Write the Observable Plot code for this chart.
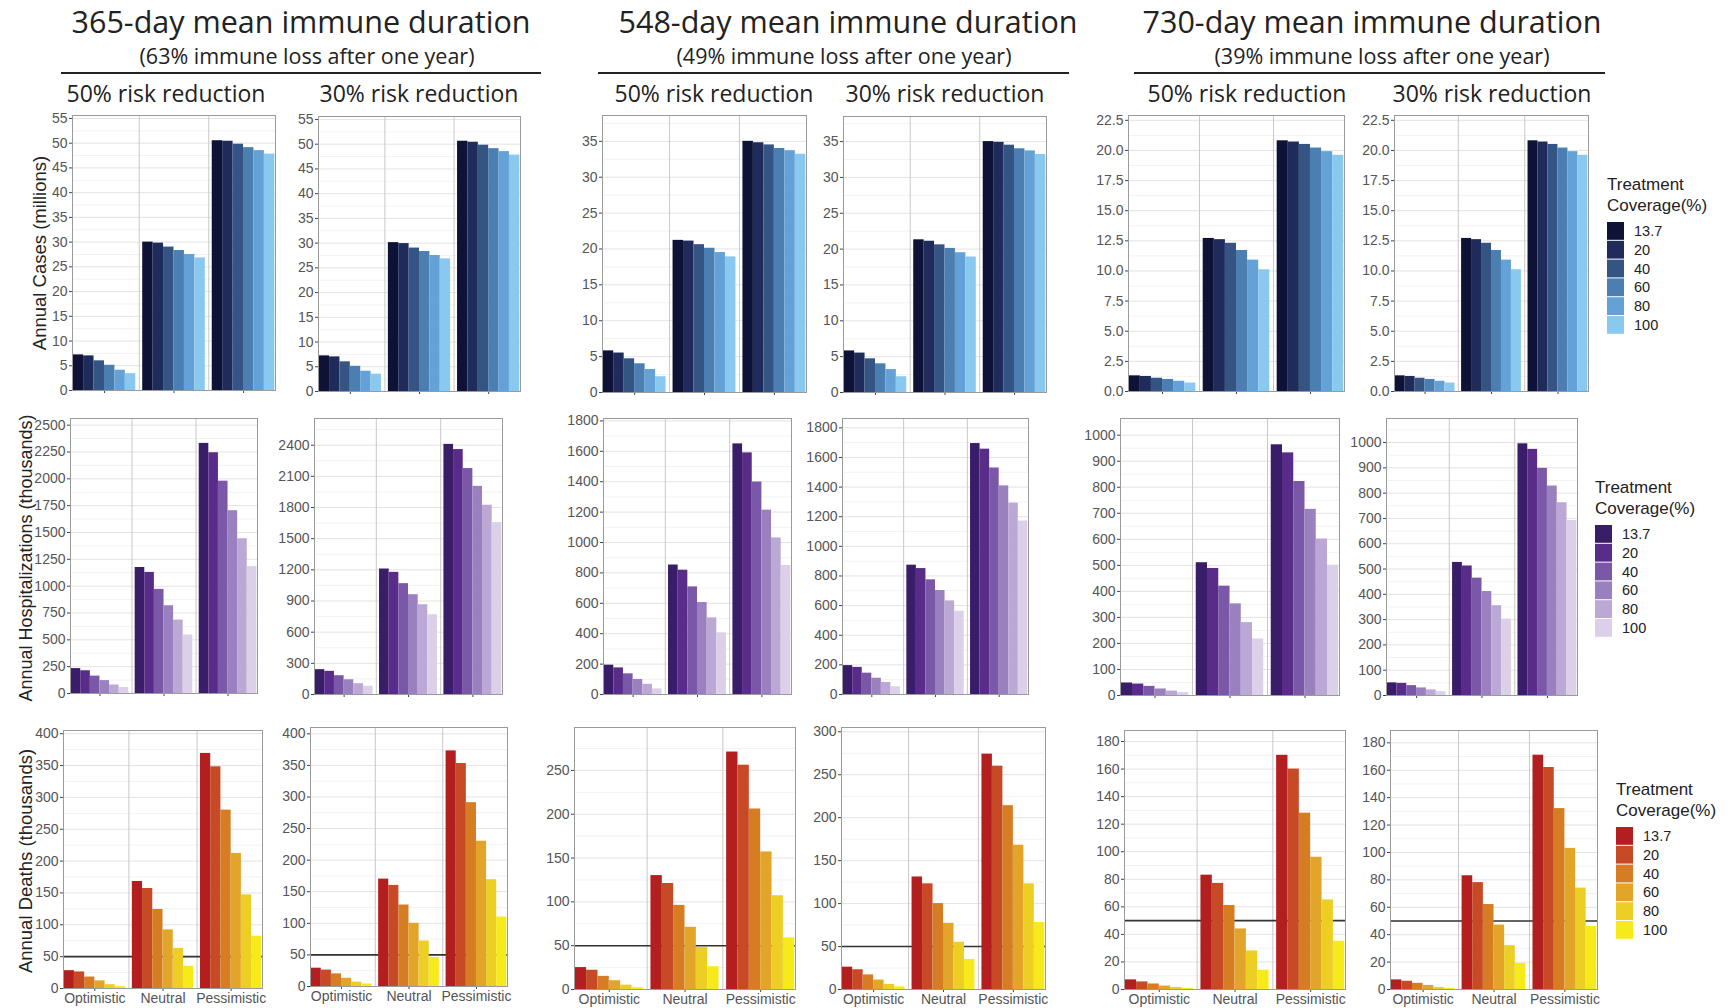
<!DOCTYPE html>
<html>
<head>
<meta charset="utf-8">
<script src="https://cdn.jsdelivr.net/npm/d3@7"></script>
<script src="https://cdn.jsdelivr.net/npm/@observablehq/plot@0.6"></script>
<style>
  html, body { margin: 0; padding: 0; background: #fff; }
  #root { position: relative; width: 1732px; height: 1008px; overflow: hidden; background: #fff; }
  #root svg.plot { position: absolute; }
</style>
</head>
<body>
<div id="root"></div>
<script>
// ---------- data ----------
const scenarios = ["Optimistic", "Neutral", "Pessimistic"];
const coverage = ["13.7", "20", "40", "60", "80", "100"];

const durationTitles = ["365-day mean immune duration", "548-day mean immune duration", "730-day mean immune duration"];
const durationSubtitles = ["(63% immune loss after one year)", "(49% immune loss after one year)", "(39% immune loss after one year)"];
const riskTitles = ["50% risk reduction", "30% risk reduction"];
const rowLabels = ["Annual Cases (millions)", "Annual Hospitalizations (thousands)", "Annual Deaths (thousands)"];
const legendTitle = ["Treatment", "Coverage(%)"];

const blues   = ["#0e1236", "#1f2b5b", "#345584", "#4b7eb1", "#63a1d6", "#89c8ef"];
const purples = ["#3a1d68", "#592c89", "#7b57a7", "#9b80bf", "#bca8d4", "#dcd0e8"];
const warms   = ["#b31f1e", "#c84926", "#d67c22", "#e2a52a", "#ecce25", "#f6ea1b"];

// values: [Optimistic, Neutral, Pessimistic] x coverage
const cases365_50 = [[7.2, 7.0, 6.0, 5.1, 4.1, 3.4], [30.0, 29.8, 29.0, 28.3, 27.5, 26.8], [50.5, 50.4, 49.8, 49.1, 48.5, 47.8]];
const cases365_30 = [[7.2, 7.0, 6.0, 5.1, 4.1, 3.5], [30.1, 29.9, 29.0, 28.3, 27.5, 26.8], [50.6, 50.4, 49.8, 49.1, 48.5, 47.8]];
const cases548_50 = [[5.8, 5.5, 4.7, 4.0, 3.2, 2.2], [21.2, 21.1, 20.6, 20.1, 19.5, 18.9], [35.0, 34.8, 34.5, 34.0, 33.7, 33.2]];
const cases548_30 = [[5.8, 5.5, 4.7, 4.0, 3.2, 2.2], [21.3, 21.1, 20.6, 20.1, 19.5, 18.9], [35.0, 34.9, 34.5, 34.0, 33.7, 33.2]];
const cases730_50 = [[1.3, 1.25, 1.1, 1.0, 0.85, 0.7], [12.7, 12.6, 12.3, 11.7, 10.9, 10.1], [20.8, 20.7, 20.5, 20.2, 19.9, 19.6]];
const cases730_30 = [[1.3, 1.25, 1.1, 1.0, 0.85, 0.7], [12.7, 12.6, 12.3, 11.7, 10.9, 10.1], [20.8, 20.7, 20.5, 20.2, 19.9, 19.6]];

const hosp365_50 = [[232, 212, 162, 120, 79, 57], [1174, 1128, 970, 818, 684, 545], [2330, 2243, 1978, 1703, 1442, 1182]];
const hosp365_30 = [[239, 223, 181, 142, 104, 80], [1208, 1176, 1067, 961, 864, 768], [2408, 2358, 2175, 2004, 1822, 1655]];
const hosp548_50 = [[193, 175, 136, 99, 67, 37], [852, 818, 708, 605, 504, 406], [1649, 1590, 1398, 1213, 1030, 849]];
const hosp548_30 = [[195, 183, 144, 110, 81, 52], [873, 850, 774, 702, 632, 562], [1694, 1656, 1529, 1408, 1292, 1171]];
const hosp730_50 = [[48, 44, 35, 25, 17, 11], [510, 488, 420, 352, 280, 217], [963, 932, 822, 715, 601, 500]];
const hosp730_30 = [[50, 48, 39, 30, 22, 15], [526, 512, 464, 411, 355, 302], [995, 973, 898, 828, 762, 692]];

const deaths365_50 = [[28, 26, 18, 12, 6, 3], [168, 157, 124, 92, 63, 35], [369, 348, 280, 212, 147, 82]];
const deaths365_30 = [[29, 26, 20, 13, 7, 4], [170, 160, 129, 100, 72, 46], [373, 353, 291, 230, 169, 110]];
const deaths548_50 = [[25, 22, 15, 10, 5, 2], [130, 121, 96, 71, 48, 26], [271, 256, 206, 157, 107, 59]];
const deaths548_30 = [[26, 23, 17, 11, 6, 3], [131, 123, 100, 77, 55, 35], [274, 260, 214, 168, 123, 78]];
const deaths730_50 = [[7, 5.5, 4, 2.5, 1.5, 0.8], [83, 77, 61, 44, 28, 14], [170, 160, 128, 96, 65, 35]];
const deaths730_30 = [[7, 6, 4.5, 3, 1.5, 0.8], [83, 78, 62, 47, 32, 19], [171, 162, 132, 103, 74, 46]];

const deathsThreshold = [50];

// tick values
const ticksCases365 = [0, 5, 10, 15, 20, 25, 30, 35, 40, 45, 50, 55];
const ticksCases548 = [0, 5, 10, 15, 20, 25, 30, 35];
const ticksCases730 = [0, 2.5, 5, 7.5, 10, 12.5, 15, 17.5, 20, 22.5];
const ticksHosp365_50 = [0, 250, 500, 750, 1000, 1250, 1500, 1750, 2000, 2250, 2500];
const ticksHosp365_30 = [0, 300, 600, 900, 1200, 1500, 1800, 2100, 2400];
const ticksHosp548 = [0, 200, 400, 600, 800, 1000, 1200, 1400, 1600, 1800];
const ticksHosp730 = [0, 100, 200, 300, 400, 500, 600, 700, 800, 900, 1000];
const ticksDeaths365 = [0, 50, 100, 150, 200, 250, 300, 350, 400];
const ticksDeaths548_50 = [0, 50, 100, 150, 200, 250];
const ticksDeaths548_30 = [0, 50, 100, 150, 200, 250, 300];
const ticksDeaths730 = [0, 20, 40, 60, 80, 100, 120, 140, 160, 180];

// ---------- layout ----------
const root = document.getElementById("root");
const W = 1732, H = 1008;

const panels = [
  // row 1: cases
  {frame: [72, 275, 115, 390],  values: cases365_50, ymax: 55.6, ticks: ticksCases365, colors: blues},
  {frame: [318, 520, 116, 391], values: cases365_30, ymax: 55.6, ticks: ticksCases365, colors: blues},
  {frame: [602, 806, 115, 392], values: cases548_50, ymax: 38.6, ticks: ticksCases548, colors: blues},
  {frame: [843, 1046, 116, 392], values: cases548_30, ymax: 38.5, ticks: ticksCases548, colors: blues},
  {frame: [1128, 1344, 115, 391], values: cases730_50, ymax: 22.9, ticks: ticksCases730, colors: blues, fmt: d3.format(".1f")},
  {frame: [1394, 1588, 115, 391], values: cases730_30, ymax: 22.9, ticks: ticksCases730, colors: blues, fmt: d3.format(".1f")},
  // row 2: hospitalizations
  {frame: [70, 257, 418, 693],  values: hosp365_50, ymax: 2562, ticks: ticksHosp365_50, colors: purples},
  {frame: [314, 502, 418, 694], values: hosp365_30, ymax: 2657, ticks: ticksHosp365_30, colors: purples},
  {frame: [603, 791, 418, 694], values: hosp548_50, ymax: 1816, ticks: ticksHosp548, colors: purples},
  {frame: [842, 1028, 418, 694], values: hosp548_30, ymax: 1863, ticks: ticksHosp548, colors: purples},
  {frame: [1120, 1339, 418, 695], values: hosp730_50, ymax: 1064, ticks: ticksHosp730, colors: purples},
  {frame: [1386, 1577, 418, 695], values: hosp730_30, ymax: 1095, ticks: ticksHosp730, colors: purples},
  // row 3: deaths
  {frame: [63, 262, 730, 988],  values: deaths365_50, ymax: 405, ticks: ticksDeaths365, colors: warms, threshold: true, xlabels: true},
  {frame: [310, 507, 727, 986], values: deaths365_30, ymax: 410, ticks: ticksDeaths365, colors: warms, threshold: true, xlabels: true},
  {frame: [574, 795, 727, 989], values: deaths548_50, ymax: 299, ticks: ticksDeaths548_50, colors: warms, threshold: true, xlabels: true},
  {frame: [841, 1045, 727, 989], values: deaths548_30, ymax: 305, ticks: ticksDeaths548_30, colors: warms, threshold: true, xlabels: true},
  {frame: [1124, 1345, 730, 989], values: deaths730_50, ymax: 188, ticks: ticksDeaths730, colors: warms, threshold: true, xlabels: true},
  {frame: [1390, 1597, 730, 989], values: deaths730_30, ymax: 189, ticks: ticksDeaths730, colors: warms, threshold: true, xlabels: true}
];

// ---------- overlay text (titles, labels, legends) ----------
const overlay = d3.create("svg")
  .attr("width", W).attr("height", H)
  .style("position", "absolute").style("left", "0px").style("top", "0px");

const titleCenters = [301, 848, 1372];
const subtitleCenters = [307, 844, 1382];
const lineSpans = [[61, 541], [598, 1069], [1134, 1605]];
const riskCenters = [[166, 419], [714, 945], [1247, 1492]];
const titleFont = "'Open Sans', 'Noto Sans', sans-serif";

titleCenters.forEach((cx, i) => {
  overlay.append("text").attr("x", cx).attr("y", 33).attr("text-anchor", "middle")
    .attr("font-family", titleFont).attr("font-size", 30.5).attr("fill", "#222").text(durationTitles[i]);
  overlay.append("text").attr("x", subtitleCenters[i]).attr("y", 63.5).attr("text-anchor", "middle")
    .attr("font-family", titleFont).attr("font-size", 21.5).attr("fill", "#222").text(durationSubtitles[i]);
  overlay.append("line").attr("x1", lineSpans[i][0]).attr("x2", lineSpans[i][1]).attr("y1", 73).attr("y2", 73)
    .attr("stroke", "#222").attr("stroke-width", 2);
  riskCenters[i].forEach((rx, k) => {
    overlay.append("text").attr("x", rx).attr("y", 102).attr("text-anchor", "middle")
      .attr("font-family", titleFont).attr("font-size", 23).attr("fill", "#222").text(riskTitles[k]);
  });
});

// row labels (rotated)
const rowLabelPos = [[46, 253], [32, 558], [32, 861]];
const rowLabelSizes = [18.5, 18, 18.5];
rowLabels.forEach((t, i) => {
  const [x, y] = rowLabelPos[i];
  overlay.append("text").attr("transform", `translate(${x},${y}) rotate(-90)`).attr("text-anchor", "middle")
    .attr("font-family", "'Liberation Sans', Arial, sans-serif").attr("font-size", rowLabelSizes[i]).attr("fill", "#222").text(t);
});

// legends
const legends = [
  {x: 1607, y: 190, colors: blues},
  {x: 1595, y: 493, colors: purples},
  {x: 1616, y: 795, colors: warms}
];
legends.forEach(L => {
  const g = overlay.append("g").attr("font-family", "'Liberation Sans', Arial, sans-serif");
  legendTitle.forEach((t, k) => {
    g.append("text").attr("x", L.x).attr("y", L.y + k * 21).attr("font-size", 17).attr("fill", "#222").text(t);
  });
  const top0 = L.y + 32;
  L.colors.forEach((c, j) => {
    g.append("rect").attr("x", L.x).attr("y", top0 + j * 18.8).attr("width", 17).attr("height", 17.8).attr("fill", c);
    g.append("text").attr("x", L.x + 27).attr("y", top0 + j * 18.8 + 14).attr("font-size", 14.5).attr("fill", "#222").text(coverage[j]);
  });
});

root.appendChild(overlay.node());

// ---------- panels ----------
function midpoints(ticks, ymax) {
  const m = d3.pairs(ticks, (a, b) => (a + b) / 2);
  const step = ticks[1] - ticks[0];
  const last = ticks[ticks.length - 1] + step / 2;
  if (last < ymax) m.push(last);
  return m;
}

panels.forEach(p => {
  const [x0, x1, y0, y1] = p.frame;
  const mL = 45, mR = 3, mT = 3, mB = p.xlabels ? 22 : 10;
  const data = [];
  p.values.forEach((grp, i) => grp.forEach((v, j) => {
    data.push({scenario: scenarios[i], cov: coverage[j], v,
      x1: i + 1 - 0.45 + j * 0.15, x2: i + 1 - 0.45 + (j + 1) * 0.15});
  }));
  const chart = Plot.plot({
    width: x1 - x0 + mL + mR,
    height: y1 - y0 + mT + mB,
    marginLeft: mL, marginRight: mR, marginTop: mT, marginBottom: mB,
    style: {fontFamily: "'Liberation Sans', Arial, sans-serif", fontSize: "14px", color: "#555", background: "transparent", overflow: "visible"},
    x: {domain: [0.54, 3.46], axis: null},
    y: {domain: [0, p.ymax], axis: null},
    color: {domain: coverage, range: p.colors},
    marks: [
      Plot.ruleY(midpoints(p.ticks, p.ymax), {stroke: "#f2f2f2", strokeWidth: 1}),
      Plot.ruleY(p.ticks, {stroke: "#e3e3e3", strokeWidth: 1}),
      Plot.ruleX([1.5, 2.5], {stroke: "#c8c8c8", strokeWidth: 1}),
      p.threshold ? Plot.ruleY(deathsThreshold, {stroke: "#333", strokeWidth: 1.6}) : null,
      Plot.rectY(data, {x1: "x1", x2: "x2", y: "v", fill: "cov"}),
      Plot.axisY({ticks: p.ticks, tickFormat: p.fmt || (d => String(d)), tickSize: 3, tickPadding: 2, label: null, stroke: "#444", fill: "#555"}),
      Plot.axisX({ticks: [1, 2, 3], tickFormat: d => p.xlabels ? scenarios[d - 1] : "", tickSize: 3, tickPadding: 2, label: null, stroke: "#444", fill: "#555"}),
      Plot.frame({stroke: "#9a9a9a", strokeWidth: 1})
    ]
  });
  chart.classList.add("plot");
  chart.style.position = "absolute";
  chart.style.left = (x0 - mL) + "px";
  chart.style.top = (y0 - mT) + "px";
  root.appendChild(chart);
});
</script>
</body>
</html>
